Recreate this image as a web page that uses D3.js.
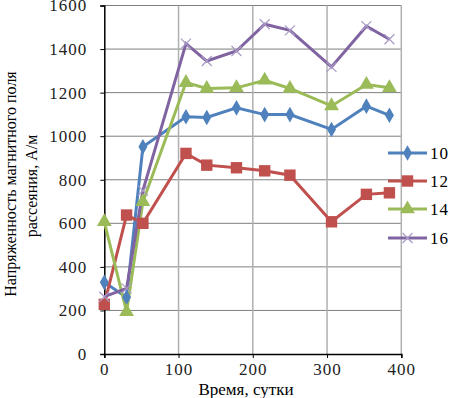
<!DOCTYPE html>
<html lang="ru">
<head>
<meta charset="UTF-8">
<title>chart</title>
<script src="https://cdn.jsdelivr.net/npm/d3@7"></script>
<style>
    body { margin: 0; background: #fff; }
</style>
</head>
<body>
<svg width="451" height="398"></svg>
<script>
    // дни и значения по сериям
    var days = [0, 30, 52, 110, 138, 178, 216, 250, 306, 353, 384];
    var s10 = [329, 260, 951, 1089, 1086, 1130, 1099, 1099, 1031, 1138, 1096];
    var s12 = [228, 638, 600, 921, 867, 855, 841, 821, 607, 733, 740];
    var s14 = [607, 194, 699, 1246, 1219, 1222, 1257, 1219, 1139, 1237, 1222];
    var s16 = [263, 301, 750, 1425, 1345, 1391, 1514, 1486, 1318, 1505, 1445];
    var seriesNames = ['10', '12', '14', '16'];
    var xTicks = [0, 100, 200, 300, 400];
    var yTicks = [0, 200, 400, 600, 800, 1000, 1200, 1400, 1600];

    var colors = ['#4F81BD', '#C0504D', '#9BBB59', '#8064A2'];
    var symbols = [d3.symbolDiamond, d3.symbolSquare, d3.symbolTriangle, d3.symbolCross];
    var allSeries = [s10, s12, s14, s16];
    var FONT = 'Liberation Serif';

    var svg = d3.select('svg'),
        x = d3.scaleLinear().domain([0, 400]).range([104.3, 401.3]),
        y = d3.scaleLinear().domain([0, 1600]).range([354, 5.5]);

    // сетка
    svg.append('g').selectAll('line').data(yTicks.slice(1)).enter().append('line')
        .attr('x1', x(0)).attr('x2', x(400))
        .attr('y1', function(d) { return y(d); }).attr('y2', function(d) { return y(d); })
        .attr('stroke', '#7f7f7f').attr('stroke-width', 1);
    svg.append('g').selectAll('line').data(xTicks.slice(1)).enter().append('line')
        .attr('y1', y(0)).attr('y2', y(1600))
        .attr('x1', function(d) { return x(d); }).attr('x2', function(d) { return x(d); })
        .attr('stroke', '#b0b0b0').attr('stroke-width', 1.5);

    // оси
    var yAxis = d3.axisLeft(y).tickValues(yTicks).tickFormat(d3.format('d')).tickSize(4).tickPadding(13);
    var xAxis = d3.axisBottom(x).tickValues(xTicks).tickFormat(d3.format('d')).tickSize(4).tickPadding(5);
    var gy = svg.append('g').attr('transform', 'translate(' + x(0) + ',0)').call(yAxis);
    var gx = svg.append('g').attr('transform', 'translate(0,' + y(0) + ')').call(xAxis);
    [gy, gx].forEach(function(g) {
        g.attr('font-family', FONT).attr('font-size', 17);
        g.select('.domain').attr('stroke', '#000').attr('stroke-width', 1.5);
        g.selectAll('.tick line').attr('stroke', '#000');
        g.selectAll('text').attr('fill', '#222').attr('letter-spacing', 1);
    });

    var line = d3.line()
        .x(function(d, i) { return x(days[i]); })
        .y(function(d) { return y(d); });

    allSeries.forEach(function(vals, k) {
        svg.append('path').datum(vals).attr('d', line)
            .attr('fill', 'none').attr('stroke', colors[k]).attr('stroke-width', 3);
    });

    function drawMarker(g, k, px, py) {
        if (k === 3) {
            var r = 5;
            g.append('path')
                .attr('d', 'M' + (px - r) + ',' + (py - r) + 'L' + (px + r) + ',' + (py + r) +
                           'M' + (px - r) + ',' + (py + r) + 'L' + (px + r) + ',' + (py - r))
                .attr('stroke', '#A99BC6').attr('stroke-width', 1.2).attr('fill', 'none');
        } else {
            var size = k === 0 ? 70 : (k === 1 ? 130 : 95);
            g.append('path')
                .attr('d', d3.symbol().type(symbols[k]).size(size)())
                .attr('transform', 'translate(' + px + ',' + py + ')')
                .attr('fill', colors[k]);
        }
    }

    allSeries.forEach(function(vals, k) {
        var g = svg.append('g');
        vals.forEach(function(v, i) { drawMarker(g, k, x(days[i]), y(v)); });
    });

    // легенда
    var legendY = [153, 181, 209, 238];
    seriesNames.forEach(function(name, k) {
        var g = svg.append('g');
        g.append('line').attr('x1', 388).attr('x2', 427)
            .attr('y1', legendY[k]).attr('y2', legendY[k])
            .attr('stroke', colors[k]).attr('stroke-width', 3);
        drawMarker(g, k, 407.5, legendY[k]);
        g.append('text').attr('x', 430).attr('y', legendY[k] + 6)
            .attr('font-family', FONT).attr('font-size', 17).attr('letter-spacing', 1).text(name);
    });

    // подписи осей
    svg.append('text').attr('x', 246).attr('y', 395).attr('text-anchor', 'middle')
        .attr('font-family', FONT).attr('font-size', 17).text('Время, сутки');
    svg.append('text').attr('transform', 'translate(16,184) rotate(-90)')
        .attr('text-anchor', 'middle').attr('font-family', FONT).attr('font-size', 16)
        .text('Напряженность магнитного поля');
    svg.append('text').attr('transform', 'translate(37,186) rotate(-90)')
        .attr('text-anchor', 'middle').attr('font-family', FONT).attr('font-size', 16)
        .text('рассеяния, А/м');
</script>
</body>
</html>
